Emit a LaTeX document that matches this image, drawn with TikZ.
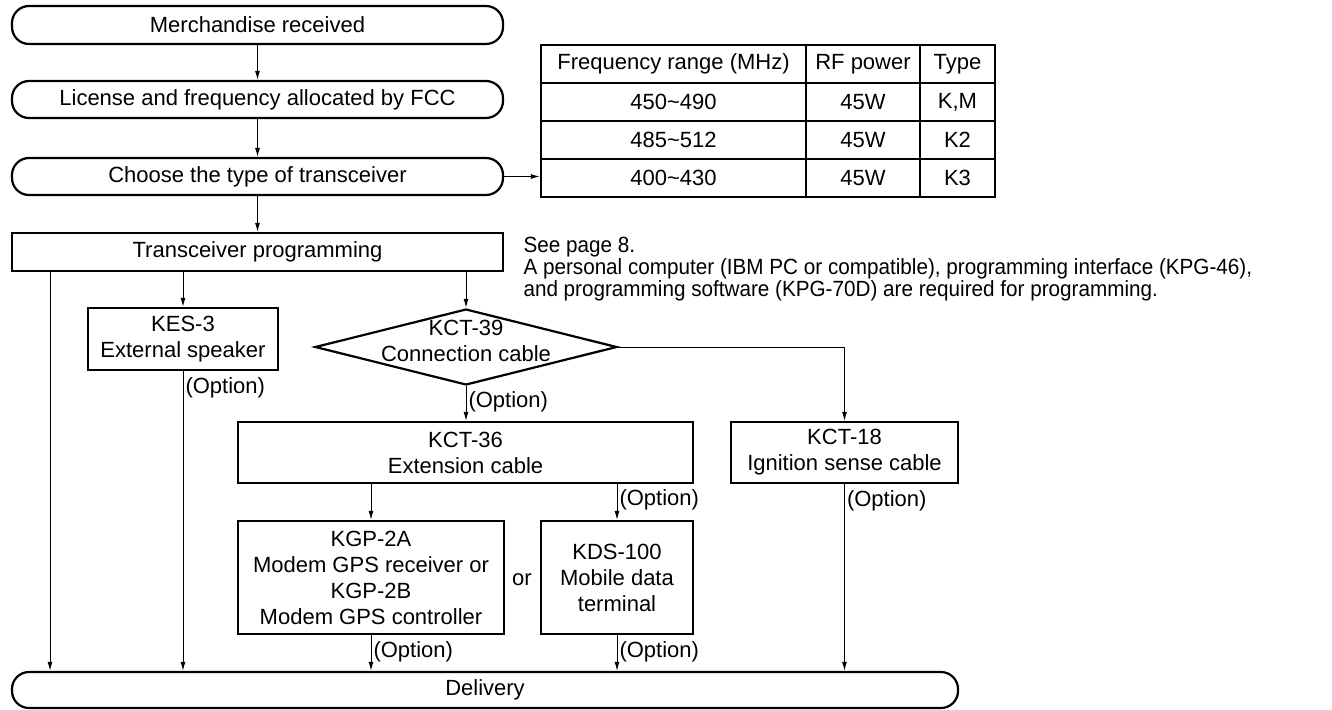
\documentclass[tikz,border=0pt]{standalone}
\usepackage{fontspec}
\setmainfont{Liberation Sans}
\newfontfamily\notefont[FakeStretch=0.94]{Liberation Sans}
\usetikzlibrary{shapes.geometric,arrows.meta}

\begin{document}
\begin{tikzpicture}[x=1pt,y=-1pt,
    font=\fontsize{22}{26}\selectfont,
    >={Latex[length=9pt,width=5pt]},
    line width=1pt,
    box/.style={draw,line width=2.2pt,inner sep=0pt,align=center},
    term/.style={box,rounded corners=17pt},
    opt/.style={anchor=west,inner sep=2pt}]

        \useasboundingbox (0,0) rectangle (1332,709);

        \begin{scope}[every node/.style={term}]
          \node (merch)  at (257.5,25)  [minimum width=491pt,minimum height=38pt] {Merchandise received};
          \node (lic)    at (257.5,99.5)  [minimum width=491pt,minimum height=37pt] {License and frequency allocated by FCC};
          \node (choose) at (257.5,176.5) [minimum width=491pt,minimum height=37pt] {Choose the type of transceiver};
          \node (dl)     at (485,690)   [minimum width=946pt,minimum height=36pt] {Delivery};
        \end{scope}

        \begin{scope}[every node/.style={box}]
          \node (tp)    at (257.5,252) [minimum width=491pt,minimum height=38pt] {Transceiver programming};
          \node (kes)   at (183,339)   [minimum width=190pt,minimum height=62pt] {KES-3\\External speaker};
          \node (kct36) at (465.5,452.5) [minimum width=455pt,minimum height=61pt] {KCT-36\\Extension cable};
          \node (kct18) at (844.5,452.5) [minimum width=227pt,minimum height=61pt] {KCT-18\\Ignition sense cable};
          \node (kgp)   at (371,577.5) [minimum width=266pt,minimum height=113pt] {KGP-2A\\Modem GPS receiver or\\KGP-2B\\Modem GPS controller};
          \node (kds)   at (617,577.5) [minimum width=152pt,minimum height=113pt] {KDS-100\\Mobile data\\terminal};
          \node (kct39) at (466,347) [diamond,minimum width=302pt,minimum height=76pt] {};
        \end{scope}

        \node (kct39t) at (466,341) [align=center] {KCT-39\\Connection cable};
        \node (or) at (522,580) {or};

        % frequency table
        \node (tbl) at (768,121) [draw,line width=2.4pt,minimum width=454pt,minimum height=152pt] {};
        \foreach \y in {83,121,159}
          \draw[line width=1.2pt] (tbl.west |- 0,\y) -- (tbl.east |- 0,\y);
        \foreach \x in {806,920}
          \draw[line width=1.2pt] (\x,0 |- tbl.north) -- (\x,0 |- tbl.south);
        \foreach \fr/\pw/\ty [count=\i] in {Frequency range (MHz)/RF power/Type,
            450\textasciitilde490/45W/{K,M},485\textasciitilde512/45W/K2,400\textasciitilde430/45W/K3}
        {
          \node (f\i) at (673.5,26+38*\i) {\fr};
          \node (p\i) at (863,26+38*\i) {\pw};
          \node (t\i) at (957.5,26+38*\i) {\ty};
        }

        \node (note) at (523,237) [anchor=north west,align=left,inner sep=0pt,font=\notefont\fontsize{22}{22}\selectfont]
          {See page 8.\\A personal computer (IBM PC or compatible), programming interface (KPG-46),\\and programming software (KPG-70D) are required for programming.};

        \coordinate (lft) at (50,0);

        \begin{scope}[every edge/.style={draw,->}]
          \path (merch)  edge (lic);
          \path (lic)    edge (choose);
          \path (choose) edge (choose -| tbl.west);
          \path (choose) edge (tp);
          \path (lft |- tp.south) edge (lft |- dl.north);
          \path (kes.north |- tp.south) edge (kes);
          \path (kct39.north |- tp.south) edge (kct39);
          \path (kes) edge node[opt,pos=0.056] {(Option)} (kes |- dl.north);
          \path (kct39) edge node[opt,pos=0.46] {(Option)} (kct39 |- kct36.north);
          \path (kgp |- kct36.south) edge (kgp);
          \path (kds |- kct36.south) edge node[opt,pos=0.45] {(Option)} (kds);
          \path (kct18) edge node[opt,pos=0.09] {(Option)} (kct18 |- dl.north);
          \path (kgp) edge node[opt,pos=0.47] {(Option)} (kgp |- dl.north);
          \path (kds) edge node[opt,pos=0.47] {(Option)} (kds |- dl.north);
        \end{scope}
        \draw[->] (kct39.east) -| (kct18);

      \end{tikzpicture}
\end{document}
